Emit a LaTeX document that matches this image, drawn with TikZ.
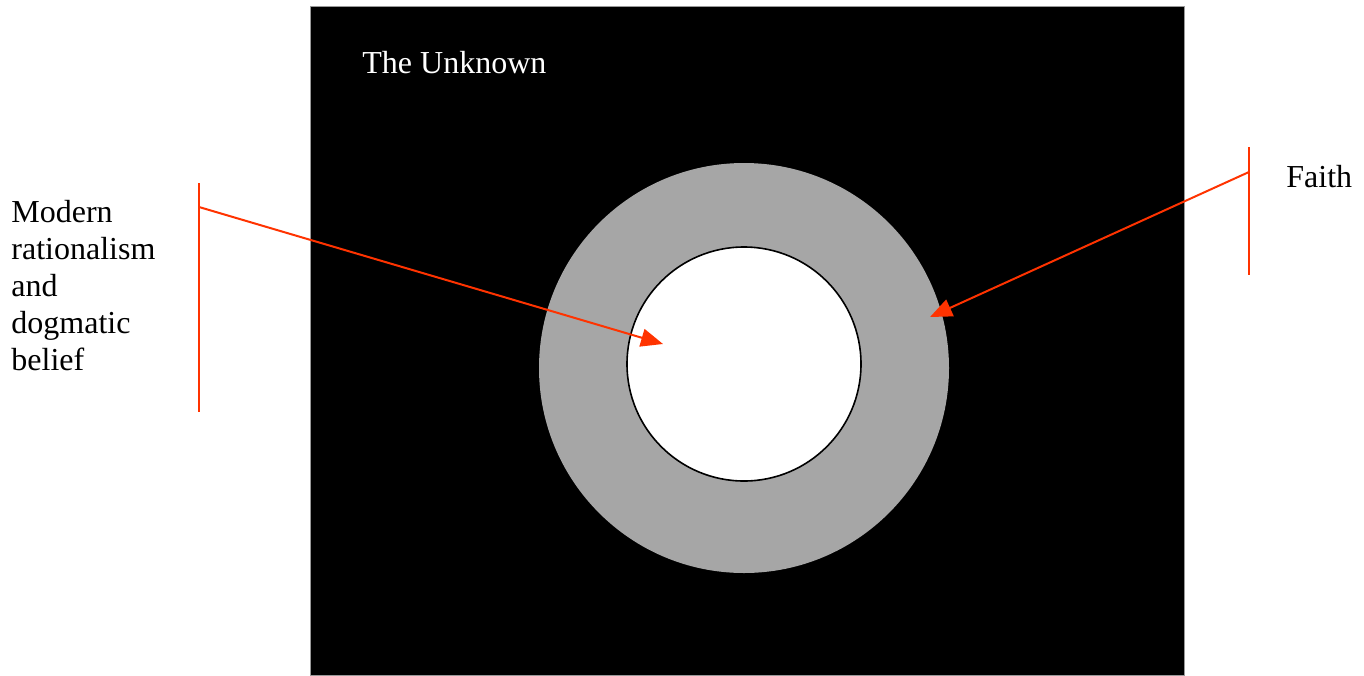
\documentclass[tikz,border=0pt]{standalone}
\usepackage{fontspec}
\setmainfont{Liberation Serif}
\usetikzlibrary{arrows.meta}
\definecolor{redline}{RGB}{255,51,0}
\definecolor{ringgrey}{RGB}{166,166,166}
\tikzset{
  lbl/.style={anchor=base west, inner sep=0pt, font=\fontsize{16}{18.5}\selectfont},
  redln/.style={draw=redline, line width=1pt},
  pointer/.style={redln, -{Triangle[length=11pt,width=9pt]}, shorten >=0pt},
}
\begin{document}
\begin{tikzpicture}[x=0.5pt,y=-0.5pt]
\useasboundingbox (0,0) rectangle (1364,675);
\fill[white] (0,0) rectangle (1364,675);
\node[fill=black, draw=black!40, line width=0.3pt, minimum width=437pt, minimum height=334.5pt, inner sep=0pt, anchor=north west] (unknown) at (310,6) {};
\node[circle, fill=ringgrey, minimum size=205pt, inner sep=0pt] (faithring) at (744,368) {};
\node[circle, fill=white, draw=black, line width=0.8pt, minimum size=117pt, inner sep=0pt] (reason) at (744,364) {};
\node[lbl, text=white] (tu) at (362,73) {The Unknown};
\node[lbl, align=left, anchor=north west] (modern) at (11,200) {Modern\\rationalism\\and\\dogmatic\\belief};
\node[lbl] (faith) at (1286,187) {Faith};
% brackets
\coordinate (lb1) at (199,183);
\coordinate (lb2) at (199,412);
\coordinate (ls) at (199,207);
\coordinate (lt) at (663,344);
\coordinate (rb1) at (1249,147);
\coordinate (rb2) at (1249,275);
\coordinate (rs) at (1249,172);
\coordinate (rt) at (930,317);
\draw[redln] (lb1) -- (lb2);
\draw[redln] (rb1) -- (rb2);
\draw[pointer] (ls) -- (lt);
\draw[pointer] (rs) -- (rt);
\end{tikzpicture}
\end{document}
